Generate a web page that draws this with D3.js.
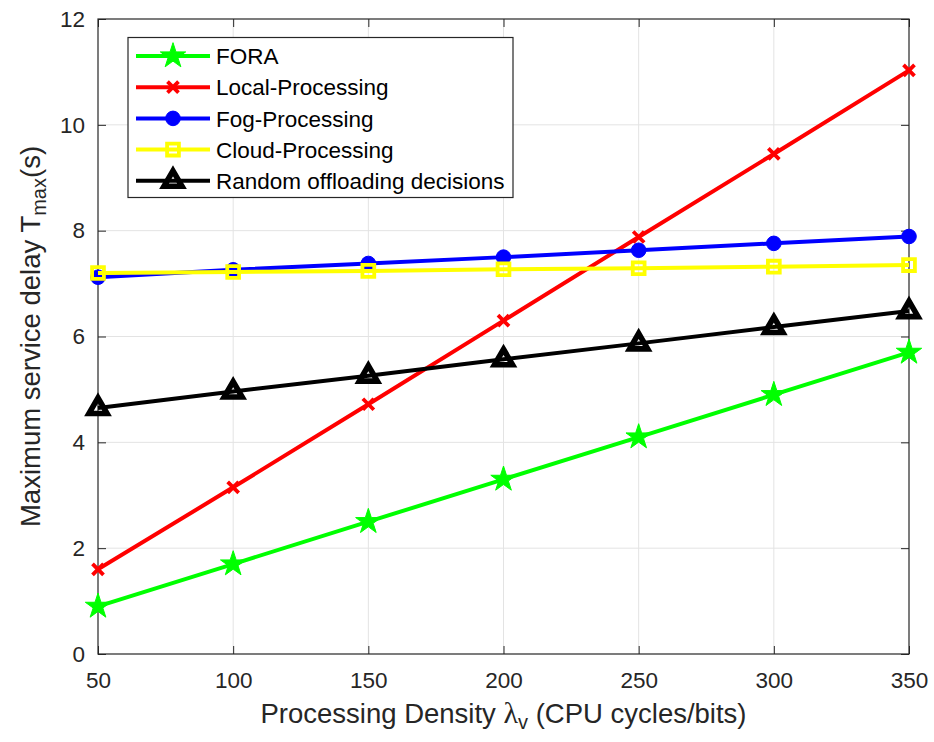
<!DOCTYPE html>
<html>
<head>
<meta charset="utf-8">
<script src="https://cdn.jsdelivr.net/npm/d3@7"></script>
<style>
  body { margin: 0; background: #fff; }
  svg text { font-family: "Liberation Sans", Arial, Helvetica, sans-serif; }
</style>
</head>
<body>
<div class="chart"></div>
<script>
// processing density (CPU cycles/bit)
var densities = [50, 100, 150, 200, 250, 300, 350];

// maximum service delay (s) per scheme
var foraDelay   = [0.9, 1.7, 2.5, 3.3, 4.1, 4.9, 5.7];
var localDelay  = [1.6, 3.15, 4.72, 6.3, 7.88, 9.45, 11.03];
var fogDelay    = [7.12, 7.26, 7.38, 7.5, 7.63, 7.76, 7.89];
var cloudDelay  = [7.2, 7.22, 7.24, 7.27, 7.29, 7.32, 7.35];
var randomDelay = [4.65, 4.96, 5.26, 5.57, 5.87, 6.18, 6.48];

var seriesNames  = ["FORA", "Local-Processing", "Fog-Processing", "Cloud-Processing", "Random offloading decisions"];
var seriesColors = ["#00ff00", "#ff0000", "#0000ff", "#ffff00", "#000000"];
var seriesMarks  = ["star", "x", "circle", "square", "triangle"];

var xTicks = [50, 100, 150, 200, 250, 300, 350];
var yTicks = [0, 2, 4, 6, 8, 10, 12];

var series = seriesNames.map(function(name, i){
  return {
    name: name,
    color: seriesColors[i],
    mark: seriesMarks[i],
    values: [foraDelay, localDelay, fogDelay, cloudDelay, randomDelay][i]
  };
});

var width = 934, height = 742;
var margin = {top: 19, right: 25, bottom: 88, left: 98};
var axisColor = "#262626";

var svg = d3.select(".chart").append("svg")
  .attr("width", width)
  .attr("height", height);

var x = d3.scaleLinear().domain([50, 350]).range([margin.left, width - margin.right]);
var y = d3.scaleLinear().domain([0, 12]).range([height - margin.bottom, margin.top]);

var x0 = x.range()[0], x1 = x.range()[1];
var y0 = y.range()[0], y1 = y.range()[1];

// grid
var grid = svg.append("g").attr("class", "grid");
grid.selectAll("line.gx").data(xTicks.slice(1, -1)).enter().append("line")
  .attr("x1", function(d){ return x(d); }).attr("x2", function(d){ return x(d); })
  .attr("y1", y0).attr("y2", y1)
  .attr("stroke", "#e3e3e3").attr("stroke-width", 1);
grid.selectAll("line.gy").data(yTicks.slice(1, -1)).enter().append("line")
  .attr("y1", function(d){ return y(d); }).attr("y2", function(d){ return y(d); })
  .attr("x1", x0).attr("x2", x1)
  .attr("stroke", "#e3e3e3").attr("stroke-width", 1);

// axes (ticks point inward, box all round)
function styleAxis(g, showText){
  g.select(".domain").remove();
  g.selectAll(".tick line").attr("stroke", axisColor).attr("stroke-width", 1);
  g.selectAll(".tick text").attr("fill", axisColor).style("font-size", "22.5px");
  if(!showText) g.selectAll(".tick text").remove();
}

svg.append("g")
  .attr("transform", "translate(0," + y0 + ")")
  .call(d3.axisBottom(x).tickValues(xTicks).tickSize(-8).tickPadding(18))
  .call(styleAxis, true);
svg.append("g")
  .attr("transform", "translate(0," + y1 + ")")
  .call(d3.axisTop(x).tickValues(xTicks).tickSize(-8))
  .call(styleAxis, false);
svg.append("g")
  .attr("transform", "translate(" + x0 + ",0)")
  .call(d3.axisLeft(y).tickValues(yTicks).tickSize(-8).tickPadding(13))
  .call(styleAxis, true);
svg.append("g")
  .attr("transform", "translate(" + x1 + ",0)")
  .call(d3.axisRight(y).tickValues(yTicks).tickSize(-8))
  .call(styleAxis, false);

svg.append("rect")
  .attr("x", x0).attr("y", y1)
  .attr("width", x1 - x0).attr("height", y0 - y1)
  .attr("fill", "none").attr("stroke", axisColor).attr("stroke-width", 1.2);

// marker drawing
function drawMarker(g, mark, color){
  if(mark === "star"){
    g.append("path").attr("d", d3.symbol().type(d3.symbolStar).size(200)())
      .attr("fill", color).attr("stroke", color).attr("stroke-width", 1);
  } else if(mark === "x"){
    g.append("path").attr("d", "M-5.5,-5.5L5.5,5.5M-5.5,5.5L5.5,-5.5")
      .attr("fill", "none").attr("stroke", color).attr("stroke-width", 3.8);
  } else if(mark === "circle"){
    g.append("circle").attr("r", 7.3).attr("fill", color).attr("stroke", color).attr("stroke-width", 1);
  } else if(mark === "square"){
    g.append("path").attr("d", d3.symbol().type(d3.symbolSquare).size(140)())
      .attr("fill", "none").attr("stroke", color).attr("stroke-width", 3.8);
  } else if(mark === "triangle"){
    g.append("path").attr("d", "M0,-10L9,5.5L-9,5.5Z")
      .attr("fill", "none").attr("stroke", color).attr("stroke-width", 5.6)
      .attr("stroke-linejoin", "miter");
  }
}

var line = d3.line()
  .x(function(d){ return x(d[0]); })
  .y(function(d){ return y(d[1]); });

series.forEach(function(s){
  var pts = densities.map(function(d, i){ return [d, s.values[i]]; });
  var g = svg.append("g").attr("class", "series");
  g.append("path")
    .datum(pts)
    .attr("d", line)
    .attr("fill", "none")
    .attr("stroke", s.color)
    .attr("stroke-width", 4)
    .attr("stroke-linejoin", "round");
  g.selectAll("g.mk").data(pts).enter().append("g")
    .attr("transform", function(d){ return "translate(" + x(d[0]) + "," + y(d[1]) + ")"; })
    .each(function(){ drawMarker(d3.select(this), s.mark, s.color); });
});

// legend
var legend = svg.append("g").attr("class", "legend");
legend.append("rect")
  .attr("x", 128).attr("y", 37.5)
  .attr("width", 385).attr("height", 160)
  .attr("fill", "#fff").attr("stroke", axisColor).attr("stroke-width", 1.2);
series.forEach(function(s, i){
  var ly = 56 + i * 31.2;
  var row = legend.append("g").attr("transform", "translate(0," + ly + ")");
  row.append("line").attr("x1", 136).attr("x2", 210).attr("y1", 0).attr("y2", 0)
    .attr("stroke", s.color).attr("stroke-width", 4);
  var m = row.append("g").attr("transform", "translate(173,0)");
  drawMarker(m, s.mark, s.color);
  row.append("text").attr("x", 216).attr("y", 0).attr("dy", "0.36em")
    .style("font-size", "22.5px").attr("fill", "#000").text(s.name);
});

// axis labels
var xl = svg.append("text")
  .attr("x", (x0 + x1) / 2).attr("y", 723)
  .attr("text-anchor", "middle")
  .attr("fill", axisColor)
  .style("font-size", "27.5px");
xl.append("tspan").text("Processing Density ");
xl.append("tspan").style("font-family", "'Liberation Serif', 'DejaVu Serif', serif").style("font-size", "30px").text("\u03bb");
xl.append("tspan").attr("baseline-shift", "-30%").style("font-size", "20px").text("v");
xl.append("tspan").text(" (CPU cycles/bits)");

var yl = svg.append("text")
  .attr("transform", "translate(40," + ((y0 + y1) / 2) + ") rotate(-90)")
  .attr("text-anchor", "middle")
  .attr("fill", axisColor)
  .style("font-size", "27.5px");
yl.append("tspan").text("Maximum service delay T");
yl.append("tspan").attr("baseline-shift", "-30%").style("font-size", "20px").text("max");
yl.append("tspan").text("(s)");
</script>
</body>
</html>
